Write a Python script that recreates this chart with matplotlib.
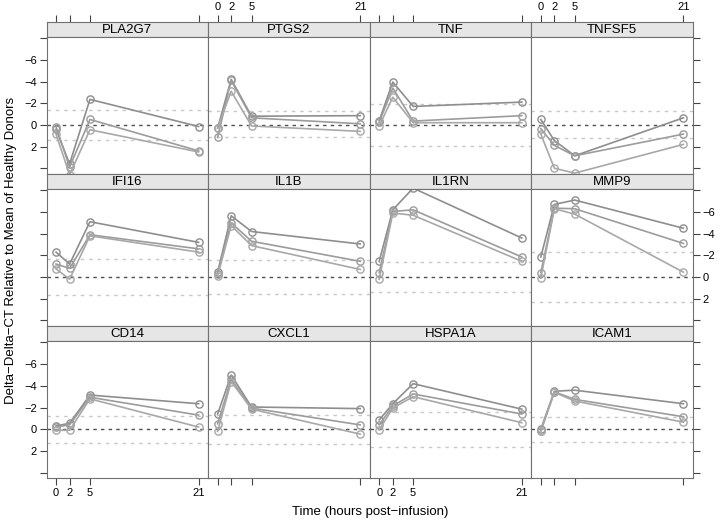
import matplotlib
matplotlib.use("Agg")
import matplotlib.pyplot as plt

plt.rcParams['font.family'] = ['Liberation Sans', 'DejaVu Sans']

# hours post-infusion
times = [0, 2, 5, 21]

genes = ["PLA2G7", "PTGS2", "TNF", "TNFSF5",
         "IFI16", "IL1B", "IL1RN", "MMP9",
         "CD14", "CXCL1", "HSPA1A", "ICAM1"]

# delta-delta-CT, three donors per gene
pla2g7 = [[0.4, 3.6, -2.35, 0.15], [0.15, 3.9, -0.5, 2.4], [0.85, 4.6, 0.45, 2.5]]
ptgs2 = [[0.3, -4.2, -0.8, -0.85], [1.15, -4.1, -0.65, -0.1], [0.3, -3.1, 0.1, 0.6]]
tnf = [[-0.4, -3.95, -1.7, -2.1], [-0.25, -3.4, -0.35, -0.85], [0.1, -2.55, -0.2, -0.2]]
tnfsf5 = [[-0.5, 1.45, 2.85, -0.65], [0.35, 1.9, 2.85, 0.85], [0.85, 4.0, 4.45, 1.8]]
ifi16 = [[-2.3, -1.2, -5.1, -3.2], [-1.2, -0.8, -3.9, -2.6], [-0.75, 0.2, -3.8, -2.3]]
il1b = [[-0.45, -5.65, -4.2, -3.05], [-0.3, -5.0, -3.3, -1.45], [-0.1, -4.75, -2.9, -0.7]]
il1rn = [[-1.45, -6.2, -8.2, -3.6], [-0.4, -6.05, -6.2, -1.85], [0.2, -5.9, -5.7, -1.45]]
mmp9 = [[-1.85, -6.7, -7.1, -4.5], [-0.4, -6.35, -6.3, -3.1], [0.1, -6.3, -5.8, -0.45]]
cd14 = [[-0.3, -0.55, -3.15, -2.35], [-0.2, -0.4, -2.95, -1.3], [0.1, 0.1, -2.8, -0.2]]
cxcl1 = [[-1.4, -5.0, -2.05, -1.9], [-0.5, -4.6, -1.95, -0.4], [0.2, -4.4, -1.85, 0.45]]
hspa1a = [[-0.85, -2.35, -4.2, -1.85], [-0.4, -2.15, -3.25, -1.4], [0.05, -1.95, -3.0, -0.6]]
icam1 = [[0.0, -3.5, -3.6, -2.35], [0.15, -3.45, -2.75, -1.15], [0.2, -3.4, -2.6, -0.65]]

series = [pla2g7, ptgs2, tnf, tnfsf5, ifi16, il1b, il1rn, mmp9, cd14, cxcl1, hspa1a, icam1]

# healthy donor band (dotted lines)
ref_lo = [-1.4, -1.25, -1.95, -1.25, -1.7, -1.6, -1.4, -2.35, -1.25, -1.3, -1.55, -1.1]
ref_hi = [1.4, 1.15, 1.95, 1.2, 1.65, 1.57, 1.4, 2.3, 1.3, 1.35, 1.6, 1.15]

yticks = [-8, -6, -4, -2, 0, 2, 4]
ytick_labels = ["", "\u22126", "\u22124", "\u22122", "0", "2", ""]

W, H = 722, 525
fig = plt.figure(figsize=(W / 100, H / 100), dpi=100)

left0, top0 = 46.5, 21.5
pw, row_h, strip_h = 161.6, 152.17, 15.0
xlim = (-1.4, 22.4)
ylim = (4.5, -8.15)
frame = "#707070"
line_cols = ["#8e8e8e", "#9c9c9c", "#a8a8a8"]


def fig_rect(x, y, w, h):
    return [x / W, 1 - (y + h) / H, w / W, h / H]


for k, gene in enumerate(genes):
    r, c = divmod(k, 4)
    x0 = left0 + c * pw
    y0 = top0 + r * row_h
    sax = fig.add_axes(fig_rect(x0, y0, pw, strip_h))
    ax = fig.add_axes(fig_rect(x0, y0 + strip_h, pw, row_h - strip_h))

    # strip
    sax.set_facecolor("#e6e6e6")
    sax.set_xlim(xlim)
    sax.set_yticks([])
    sax.text(0.5, 0.45, gene, transform=sax.transAxes, ha="center", va="center", fontsize=9.5)
    for s in sax.spines.values():
        s.set_color(frame)
    if r == 0:
        sax.xaxis.set_ticks_position("top")
        sax.set_xticks(times)
        sax.tick_params(axis="x", direction="out", length=5, color="#444444", labelsize=8, pad=1.5)
        if c % 2 == 1:
            sax.set_xticklabels([str(t) for t in times])
        else:
            sax.set_xticklabels([])
    else:
        sax.set_xticks([])

    # panel
    ax.set_xlim(xlim)
    ax.set_ylim(ylim)
    for s in ax.spines.values():
        s.set_color(frame)
    ax.axhline(0, color="#505050", lw=1, ls=(0, (2.5, 3)), zorder=1)
    ax.axhline(ref_lo[k], color="#c8c8c8", lw=1, ls=(0, (2.5, 3.5)), zorder=1)
    ax.axhline(ref_hi[k], color="#c8c8c8", lw=1, ls=(0, (2.5, 3.5)), zorder=1)
    for j, vals in enumerate(series[k]):
        ax.plot(times, vals, color=line_cols[j], lw=1.2, marker="o", ms=5.2,
                mfc="none", mec=line_cols[j], mew=1, zorder=2)

    # x ticks at the bottom row
    if r == 2:
        ax.set_xticks(times)
        ax.tick_params(axis="x", direction="out", length=5, color="#444444", labelsize=8, pad=2)
        if c % 2 == 0:
            ax.set_xticklabels([str(t) for t in times])
        else:
            ax.set_xticklabels([])
    else:
        ax.set_xticks([])

    # y ticks on the outer columns
    if c in (0, 3):
        ax.set_yticks(yticks)
        ax.tick_params(axis="y", direction="out", length=5, color="#444444", labelsize=8, pad=2)
        labelled = (c == 0 and r != 1) or (c == 3 and r == 1)
        if c == 0:
            ax.yaxis.set_ticks_position("left")
        else:
            ax.yaxis.set_ticks_position("right")
        ax.set_yticklabels(ytick_labels if labelled else [""] * len(yticks))
    else:
        ax.set_yticks([])

fig.text(370 / W, 1 - 512 / H, "Time (hours post\u2212infusion)", ha="center", va="center", fontsize=9.5)
fig.text(11 / W, 1 - 250 / H, "Delta\u2212Delta\u2212CT Relative to Mean of Healthy Donors",
         ha="center", va="center", rotation=90, fontsize=9.5)

fig.savefig("out.png", dpi=100)
